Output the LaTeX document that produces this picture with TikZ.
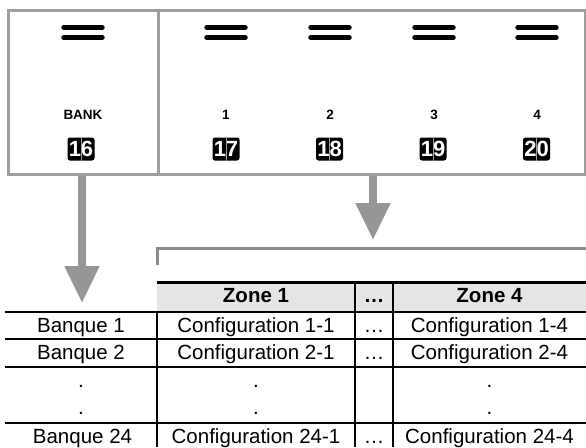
\documentclass[tikz,border=0pt]{standalone}
\usepackage{fontspec}
\setmainfont{Liberation Sans}
\usepackage{xcolor}
\definecolor{cFrame}{HTML}{9E9E9E}
\definecolor{cArrow}{HTML}{969696}
\definecolor{cBracket}{HTML}{8C8C8C}
\definecolor{cHead}{HTML}{E5E5E5}
\usepackage{tikz}
\usetikzlibrary{positioning,arrows.meta}
\tikzset{
  panel-box/.style={draw=cFrame,line width=3pt,minimum height=164pt,inner sep=0pt},
  knob-bar/.style={line width=4.4pt,line cap=round},
  key-label/.style={anchor=base,inner sep=0pt,font=\fontsize{13.5}{14}\bfseries\selectfont},
  key-badge/.style={fill=black,text=white,rounded corners=2.5pt,minimum width=27pt,
    minimum height=23pt,inner sep=0pt,font=\fontsize{22}{22}\bfseries\selectfont},
  badge-split/.style={draw=cFrame,line width=0.4pt},
  arrow-block/.style={-{Triangle[length=37pt,width=33pt]},line width=8pt,draw=cArrow},
  bracket/.style={draw=cBracket,line width=3pt},
  cell/.style={anchor=base,inner sep=0pt,font=\fontsize{20.5}{24}\selectfont},
  cell-head/.style={cell,font=\fontsize{20.5}{24}\bfseries\selectfont},
  rule-thin/.style={line width=1.1pt},
  rule-thick/.style={line width=3pt},
}
\begin{document}
\begin{tikzpicture}[x=1pt,y=-1pt]
  \useasboundingbox (0,0) rectangle (586,447);
  % panel with the five keys
  \node[panel-box,minimum width=150pt] (bankbox) at (83,92) {};
  \node[panel-box,minimum width=427pt] (zonebox) at (371.5,92) {};
  \foreach \x in {83,226,330,434,537} {
    \draw[knob-bar] (\x-19.5,27.5) -- (\x+19.5,27.5);
    \draw[knob-bar] (\x-19.5,37.5) -- (\x+19.5,37.5);
  }
  \node[key-label] (lbank) at (83,119) {BANK};
  \node[key-label] (lz1) at (226,119) {1};
  \node[key-label] (lz2) at (330,119) {2};
  \node[key-label] (lz3) at (434,119) {3};
  \node[key-label] (lz4) at (537,119) {4};
  \node[key-badge] (b16) at (81,149) {16};
  \node[key-badge] (b17) at (226,149) {17};
  \node[key-badge] (b18) at (329.5,149) {18};
  \node[key-badge] (b19) at (433,149) {19};
  \node[key-badge] (b20) at (536.5,149) {20};
  \foreach \b in {b16,b17,b18,b19,b20}
    \draw[badge-split] (\b.north) -- (\b.south);
  % arrows and bracket
  \coordinate (banktip) at (82,303);
  \coordinate (zonetip) at (373,240);
  \draw[arrow-block] (bankbox.south -| banktip) -- (banktip);
  \draw[arrow-block] (zonebox.south -| zonetip) -- (zonetip);
  \coordinate (brk) at (157,265);
  \coordinate (brkend) at (586,248);
  \draw[bracket] (brk) |- (brkend);
  % table
  \fill[cHead] (157,282) rectangle (586,311);
  \draw[rule-thick] (157,282) -- (586,282);
  \foreach \y in {312,339,367,423}
    \draw[rule-thin] (5,\y) -- (586,\y);
  \draw[rule-thin] (157,312) -- (157,447);
  \foreach \x in {355,393}
    \draw[rule-thin] (\x,282) -- (\x,447);
  \node[cell-head] (hz1) at (256,302) {Zone 1};
  \node[cell-head] (hdots) at (374,302) {…};
  \node[cell-head] (hz4) at (489.5,302) {Zone 4};
  \node[cell] (bq1) at (81,332) {Banque 1};
  \node[cell] (c11) at (256,332) {Configuration 1-1};
  \node[cell] (d1) at (374,332) {…};
  \node[cell] (c14) at (489.5,332) {Configuration 1-4};
  \node[cell] (bq2) at (81,359) {Banque 2};
  \node[cell] (c21) at (256,359) {Configuration 2-1};
  \node[cell] (d2) at (374,359) {…};
  \node[cell] (c24) at (489.5,359) {Configuration 2-4};
  \node[cell] (va1) at (81,387) {.};
  \node[cell] (va2) at (256,387) {.};
  \node[cell] (va3) at (489.5,387) {.};
  \node[cell] (vb1) at (81,414) {.};
  \node[cell] (vb2) at (256,414) {.};
  \node[cell] (vb3) at (489.5,414) {.};
  \node[cell] (bq24) at (82.5,443) {Banque 24};
  \node[cell] (c241) at (256,443) {Configuration 24-1};
  \node[cell] (d24) at (374,443) {…};
  \node[cell] (c244) at (489.5,443) {Configuration 24-4};
\end{tikzpicture}
\end{document}
